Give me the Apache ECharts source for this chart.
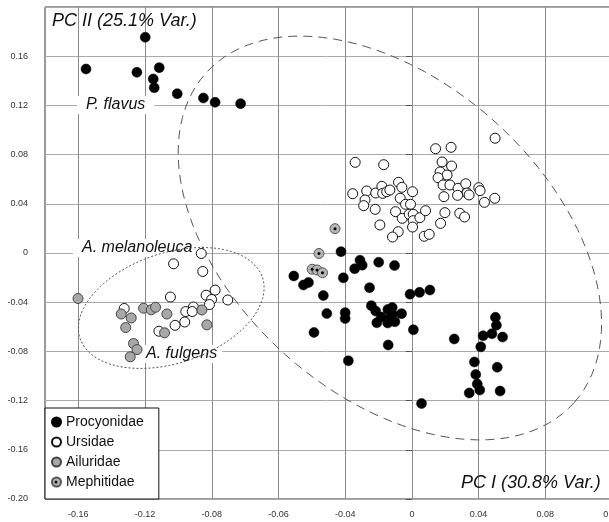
<!DOCTYPE html>
<html>
<head>
<meta charset="utf-8">
<script src="https://cdn.jsdelivr.net/npm/echarts@6.0.0/dist/echarts.min.js"></script>
<style>
  html, body { margin: 0; padding: 0; background: #fff; }
  #main { width: 609px; height: 522px; }
</style>
</head>
<body>
<div id="main"></div>
<script>
// PC I / PC II scores
var procyonidae = [
    [-0.1599, 0.1754], [-0.1954, 0.1496], [-0.1649, 0.1469], [-0.1515, 0.1507], [-0.1551, 0.1415],
    [-0.1545, 0.1344], [-0.1407, 0.1295], [-0.1250, 0.1260], [-0.1180, 0.1225], [-0.1027, 0.1214],
    [-0.0425, 0.0011], [-0.0311, -0.0059], [-0.0298, -0.0099], [-0.0343, -0.0128], [-0.0199, -0.0075],
    [-0.0104, -0.0102], [-0.0708, -0.0187], [-0.0650, -0.0260], [-0.0620, -0.0240], [-0.0411, -0.0202],
    [-0.0531, -0.0346], [-0.0254, -0.0282], [-0.0011, -0.0335], [0.0046, -0.0320], [0.0108, -0.0301],
    [-0.0510, -0.0492], [-0.0400, -0.0485], [-0.0400, -0.0533], [-0.0243, -0.0428], [-0.0217, -0.0472],
    [-0.0183, -0.0520], [-0.0210, -0.0567], [-0.0144, -0.0459], [-0.0118, -0.0443], [-0.0117, -0.0498],
    [-0.0132, -0.0531], [-0.0102, -0.0559], [-0.0145, -0.0569], [-0.0062, -0.0493], [-0.0587, -0.0646],
    [0.0009, -0.0624], [-0.0142, -0.0748], [-0.0381, -0.0876], [0.0058, -0.1224], [0.0254, -0.0699],
    [0.0501, -0.0523], [0.0507, -0.0587], [0.0480, -0.0656], [0.0427, -0.0673], [0.0544, -0.0683],
    [0.0413, -0.0763], [0.0375, -0.0886], [0.0512, -0.0929], [0.0383, -0.0988], [0.0392, -0.1065],
    [0.0407, -0.1114], [0.0344, -0.1138], [0.0529, -0.1122]
];
var ursidae = [
    [-0.0340, 0.0737], [-0.0169, 0.0718], [0.0142, 0.0848], [0.0235, 0.0859], [0.0499, 0.0933],
    [0.0181, 0.0740], [0.0238, 0.0707], [0.0169, 0.0659], [0.0211, 0.0634], [0.0157, 0.0612],
    [0.0187, 0.0553], [0.0228, 0.0553], [0.0277, 0.0526], [0.0323, 0.0563], [0.0331, 0.0488],
    [0.0343, 0.0472], [0.0274, 0.0469], [0.0192, 0.0458], [0.0401, 0.0531], [0.0409, 0.0507],
    [0.0435, 0.0412], [0.0497, 0.0445], [0.0198, 0.0328], [0.0287, 0.0323], [0.0316, 0.0293],
    [0.0172, 0.0241], [-0.0355, 0.0482], [-0.0271, 0.0504], [-0.0281, 0.0431], [-0.0289, 0.0385],
    [-0.0217, 0.0488], [-0.0180, 0.0542], [-0.0175, 0.0485], [-0.0151, 0.0498], [-0.0132, 0.0512],
    [-0.0080, 0.0575], [-0.0060, 0.0534], [0.0004, 0.0498], [-0.0070, 0.0445], [-0.0220, 0.0355],
    [-0.0098, 0.0336], [-0.0038, 0.0396], [-0.0008, 0.0396], [-0.0058, 0.0282], [-0.0016, 0.0315],
    [0.0008, 0.0315], [0.0008, 0.0263], [0.0048, 0.0287], [0.0082, 0.0344], [0.0004, 0.0211],
    [-0.0192, 0.0228], [-0.0082, 0.0173], [-0.0116, 0.0130], [0.0074, 0.0136], [0.0104, 0.0152],
    // A. melanoleuca
    [-0.1263, -0.0004], [-0.1429, -0.0088], [-0.1254, -0.0150], [-0.1448, -0.0358], [-0.1725, -0.0451],
    [-0.1234, -0.0343], [-0.1180, -0.0302], [-0.1201, -0.0378], [-0.1214, -0.0419], [-0.1104, -0.0382],
    [-0.1310, -0.0439], [-0.1356, -0.0476], [-0.1317, -0.0476], [-0.1362, -0.0561], [-0.1420, -0.0588],
    [-0.1517, -0.0636]
];
var ailuridae = [
    [-0.2002, -0.0370], [-0.1743, -0.0496], [-0.1683, -0.0528], [-0.1716, -0.0606], [-0.1609, -0.0449],
    [-0.1563, -0.0462], [-0.1537, -0.0441], [-0.1469, -0.0496], [-0.1483, -0.0649], [-0.1259, -0.0463],
    [-0.1229, -0.0584], [-0.1669, -0.0736], [-0.1648, -0.0785], [-0.1689, -0.0844]
];
var mephitidae = [
    [-0.0461, 0.0198], [-0.0557, -0.0004], [-0.0598, -0.0132], [-0.0569, -0.0138], [-0.0536, -0.0161]
];

// ellipses: centre x, centre y, then the two semi-axis vectors (x, y)
var bigEllipse = [-0.0132, 0.0122, 0.1105, -0.1338, -0.0625, -0.0951];
var smallEllipse = [-0.1443, -0.0447, 0.0547, 0.0247, 0.0104, -0.0425];

var xTickValues = [-0.2, -0.16, -0.12, -0.08, -0.04, 0, 0.04, 0.08, 0.12];
var xTickLabels = ['-0.16', '-0.12', '-0.08', '-0.06', '-0.04', '0', '0.04', '0.08', '0.12'];
var yTickValues = [-0.2, -0.16, -0.12, -0.08, -0.04, 0, 0.04, 0.08, 0.12, 0.16];
var yTickLabels = ['-0.20', '-0.16', '-0.12', '-0.08', '-0.04', '0', '0.04', '0.08', '0.12', '0.16'];

var font = "'Liberation Sans', Arial, sans-serif";

function tickLabel(values, labels) {
    return function (v) {
        for (var i = 0; i < values.length; i++) {
            if (Math.abs(values[i] - v) < 1e-6) return labels[i];
        }
        return '';
    };
}

var myChart = echarts.init(document.getElementById('main'));

myChart.setOption({
    animation: false,
    backgroundColor: '#fff',
    textStyle: { fontFamily: font },
    grid: {
        left: 45,
        top: 7,
        width: 567,
        height: 492,
        outerBoundsMode: 'none',
        show: true,
        borderColor: '#333',
        borderWidth: 1
    },
    xAxis: {
        type: 'value',
        min: -0.22,
        max: 0.12,
        axisLine: { show: false },
        axisTick: { show: false, customValues: xTickValues },
        axisLabel: {
            customValues: xTickValues,
            formatter: tickLabel(xTickValues, xTickLabels),
            fontSize: 9,
            color: '#333',
            margin: 11
        },
        splitLine: { show: true, lineStyle: { color: '#8a8a8a', width: 1 } }
    },
    yAxis: {
        type: 'value',
        min: -0.2,
        max: 0.2,
        interval: 0.04,
        axisLine: { show: false },
        axisTick: { show: true, length: 6, lineStyle: { color: '#555' } },
        axisLabel: {
            showMaxLabel: false,
            formatter: tickLabel(yTickValues, yTickLabels),
            fontSize: 9,
            color: '#333',
            margin: 17
        },
        splitLine: { show: true, lineStyle: { color: '#aaa', width: 1 } }
    },
    legend: {
        orient: 'vertical',
        left: 45,
        top: 408,
        padding: [7, 15, 10, 6],
        itemGap: 6,
        itemWidth: 9,
        itemHeight: 9,
        backgroundColor: '#fff',
        borderColor: '#111',
        borderWidth: 1,
        borderRadius: 0,
        textStyle: { fontSize: 14, color: '#111', fontFamily: font },
        data: ['Procyonidae', 'Ursidae', 'Ailuridae', 'Mephitidae']
    },
    graphic: [
        { type: 'text', left: 52, top: 12, z: 1,
          style: { text: 'PC II (25.1% Var.)', font: 'italic 18px ' + font, fill: '#111' } },
        { type: 'text', left: 461, top: 474, z: 1,
          style: { text: 'PC I (30.8% Var.)', font: 'italic 18px ' + font, fill: '#111' } },
        { type: 'text', left: 77, top: 96, z: 1,
          style: { text: 'P. flavus', font: 'italic 16px ' + font, fill: '#111',
                   backgroundColor: '#fff', padding: [1, 9, 1, 9] } },
        { type: 'text', left: 73, top: 239, z: 1,
          style: { text: 'A. melanoleuca', font: 'italic 16px ' + font, fill: '#111',
                   backgroundColor: '#fff', padding: [1, 9, 1, 9] } },
        { type: 'text', left: 140, top: 345, z: 1,
          style: { text: 'A. fulgens', font: 'italic 16px ' + font, fill: '#111',
                   backgroundColor: '#fff', padding: [1, 5, 1, 6] } },
        { type: 'circle', left: 54.5, top: 480.5, z: 10,
          shape: { r: 1.5 }, style: { fill: '#000' } }
    ],
    series: [
        {
            name: 'ellipses',
            type: 'custom',
            clip: false,
            z: 1,
            data: [bigEllipse, smallEllipse],
            encode: { x: 0, y: 1 },
            renderItem: function (params, api) {
                var pts = [];
                for (var i = 0; i <= 120; i++) {
                    var t = Math.PI * 2 * i / 120;
                    pts.push(api.coord([
                        api.value(0) + api.value(2) * Math.cos(t) + api.value(4) * Math.sin(t),
                        api.value(1) + api.value(3) * Math.cos(t) + api.value(5) * Math.sin(t)
                    ]));
                }
                var big = params.dataIndex === 0;
                return {
                    type: 'polyline',
                    shape: { points: pts },
                    style: {
                        fill: null,
                        stroke: '#555',
                        lineWidth: 1,
                        lineDash: big ? [9, 6] : [2, 2]
                    }
                };
            }
        },
        {
            name: 'Procyonidae',
            type: 'scatter',
            symbolSize: 10,
            itemStyle: { color: '#000', borderColor: '#000', borderWidth: 0.5, opacity: 1 },
            data: procyonidae
        },
        {
            name: 'Ursidae',
            type: 'scatter',
            symbolSize: 10,
            itemStyle: { color: '#fff', borderColor: '#111', borderWidth: 1, opacity: 1 },
            data: ursidae
        },
        {
            name: 'Ailuridae',
            type: 'scatter',
            symbolSize: 10,
            itemStyle: { color: '#a8a8a8', borderColor: '#444', borderWidth: 1, opacity: 1 },
            data: ailuridae
        },
        {
            name: 'Mephitidae',
            type: 'scatter',
            symbolSize: 10,
            itemStyle: { color: '#b5b5b5', borderColor: '#555', borderWidth: 1, opacity: 1 },
            data: mephitidae
        },
        {
            name: 'Mephitidae dot',
            type: 'scatter',
            symbolSize: 3,
            silent: true,
            itemStyle: { color: '#000', opacity: 1 },
            data: mephitidae
        }
    ]
});
</script>
</body>
</html>
